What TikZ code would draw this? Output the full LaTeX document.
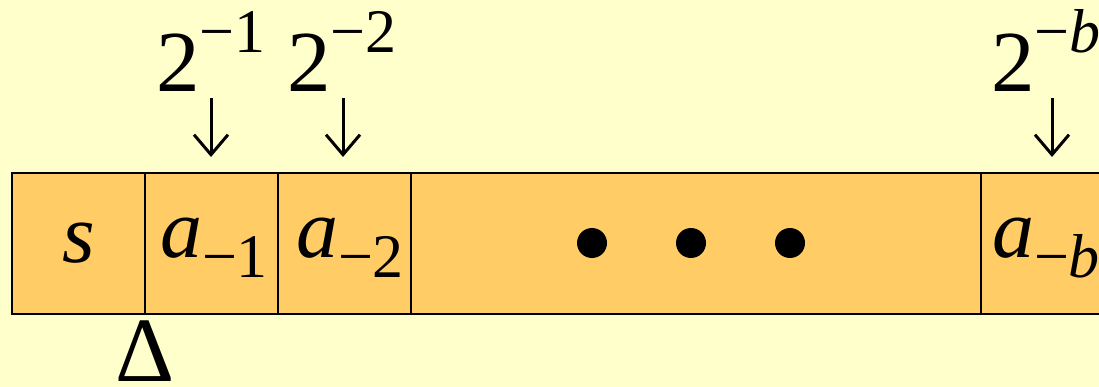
\documentclass[tikz,border=0pt]{standalone}
\usepackage{fontspec}
\setmainfont{Liberation Serif}
\newfontfamily\tms{Liberation Serif}
\usetikzlibrary{arrows.meta}
\definecolor{bgyellow}{HTML}{FFFFCC}
\definecolor{cellorange}{HTML}{FFCC66}
\newcommand\cellsz{\tms\fontsize{84}{84}\selectfont}
\newcommand\labsz{\tms\fontsize{87}{87}\selectfont}
\newcommand\scrsz{\tms\fontsize{62}{62}\selectfont}
\newcommand\mysubs[1]{\raisebox{-20pt}{\scrsz −#1}}
\newcommand\mysups[1]{\raisebox{39pt}{\scrsz −#1}}
\begin{document}
\begin{tikzpicture}[x=1pt,y=-1pt,
  cellbox/.style={draw=black,line width=1.8pt,fill=cellorange,minimum height=141pt,
    inner sep=0pt,outer sep=0pt,anchor=north west},
  celltext/.style={anchor=base,inner sep=0pt,font=\cellsz},
  labtext/.style={anchor=base,inner sep=0pt,font=\labsz},
  dotnode/.style={circle,fill=black,minimum size=30pt,inner sep=0pt},
  downarr/.style={line width=3pt,-{Straight Barb[length=20pt,width=34pt]}}]
\clip (0,0) rectangle (1099,387);
\fill[bgyellow] (0,0) rectangle (1099,387);
% cells
\node[cellbox,minimum width=133pt] (cs) at (12,173) {};
\node[cellbox,minimum width=133pt] (c1) at (145,173) {};
\node[cellbox,minimum width=133pt] (c2) at (278,173) {};
\node[cellbox,minimum width=570pt] (cd) at (411,173) {};
\node[cellbox,minimum width=133pt] (cb) at (981,173) {};
% cell texts
\node[celltext] (ts) at (79,262) {\textit{s}};
\node[celltext] (t1) at (214,258) {\textit{a}\mysubs{1}};
\node[celltext] (t2) at (350,258) {\textit{a}\mysubs{2}};
\node[celltext] (tb) at (1046,258) {\textit{a}\mysubs{\textit{b}}};
% dots
\node[dotnode] (d1) at (592,243) {};
\node[dotnode] (d2) at (691,243) {};
\node[dotnode] (d3) at (790,243) {};
% weight labels
\node[labtext] (l1) at (211,92) {2\mysups{1}};
\node[labtext] (l2) at (342,92) {2\mysups{2}};
\node[labtext] (lb) at (1046,92) {2\mysups{\textit{b}}};
% arrows
\draw[downarr] ([xshift=-0.5pt]l1.base -| c1.north) ++(0,6) -- ([xshift=-0.5pt,yshift=16pt]c1.north);
\draw[downarr] ([xshift=-1.5pt]l2.base -| c2.north) ++(0,6) -- ([xshift=-1.5pt,yshift=16pt]c2.north);
\draw[downarr] ([xshift=4.5pt]lb.base -| cb.north) ++(0,6) -- ([xshift=4.5pt,yshift=16pt]cb.north);
% Delta
\node[anchor=base,inner sep=0pt,font=\tms\fontsize{92}{92}\selectfont] (delta) at (145.5,381) {Δ};
\end{tikzpicture}
\end{document}
